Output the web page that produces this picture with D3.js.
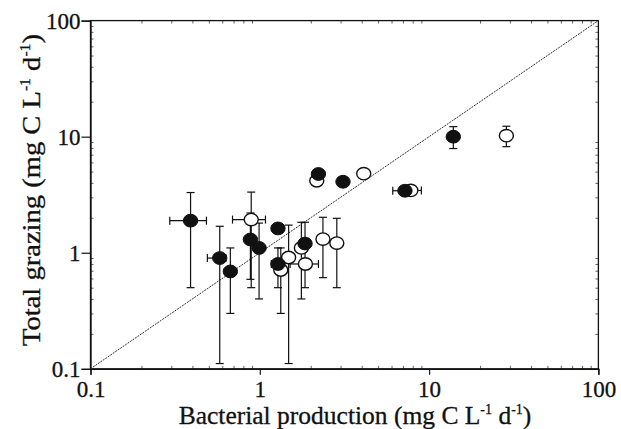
<!DOCTYPE html>
<html>
<head>
<meta charset="utf-8">
<script src="https://cdn.jsdelivr.net/npm/d3@7"></script>
<style>
  body { margin: 0; background: #fff; }
</style>
</head>
<body>
<svg id="chart"></svg>
<script>
// filled circles
const prodFilled = [0.39, 0.58, 0.67, 0.88, 0.99, 1.28, 1.28, 1.85, 2.22, 3.10, 7.2, 13.9];
const grazFilled = [1.89, 0.90, 0.69, 1.30, 1.10, 1.62, 0.80, 1.20, 4.77, 4.09, 3.42, 10.0];
const grazFilledErr = [[0.50, 3.3], [0.111, 1.69], [0.30, 1.10], [0.59, 2.2], [0.40, 1.80], null,
  [0.50, 1.10], [0.50, 1.83], null, null, null, [7.9, 12.2]];
const prodFilledErr = [[0.294, 0.484], [0.49, 0.63], null, null, null, null,
  [1.17, 1.40], null, null, null, [6.1, 8.0], null];

// open circles
const prodOpen = [0.89, 1.33, 1.48, 1.76, 1.86, 2.36, 2.85, 2.17, 4.11, 7.8, 28.6];
const grazOpen = [1.93, 0.71, 0.91, 1.10, 0.80, 1.31, 1.21, 4.17, 4.80, 3.44, 10.2];
const grazOpenErr = [[0.50, 3.33], [0.30, 1.10], [0.111, 1.73], [0.40, 1.83], null,
  [0.61, 2.02], [0.50, 1.98], null, null, null, [8.2, 12.3]];
const prodOpenErr = [[0.69, 1.08], null, null, null, [1.51, 2.22], null, null, null, null, [7.0, 9.0], null];

const tickVals = [0.1, 1, 10, 100];
const tickLabels = ['0.1', '1', '10', '100'];

const FONT = '"Liberation Serif", "Times New Roman", Times, serif';
const width = 621, height = 429;
const margin = { top: 20.6, right: 22.6, bottom: 60.2, left: 90.5 };
const w = width - margin.left - margin.right;
const h = height - margin.top - margin.bottom;

const svg = d3.select('#chart').attr('width', width).attr('height', height);
const g = svg.append('g').attr('transform', `translate(${margin.left},${margin.top})`);

const x = d3.scaleLog().domain([0.1, 100]).range([0, w]);
const y = d3.scaleLog().domain([0.1, 100]).range([h, 0]);

// minor ticks inside the frame
const minors = [];
[0.1, 1, 10].forEach(d => { for (let k = 2; k <= 9; k++) minors.push(d * k); });
const minorStyle = sel => {
  sel.select('.domain').remove();
  sel.selectAll('line').attr('stroke', '#666');
};
g.append('g').attr('transform', `translate(0,${h})`)
  .call(d3.axisTop(x).tickValues(minors).tickSize(3).tickFormat('')).call(minorStyle);
g.append('g')
  .call(d3.axisBottom(x).tickValues(minors).tickSize(3).tickFormat('')).call(minorStyle);
g.append('g')
  .call(d3.axisRight(y).tickValues(minors).tickSize(3).tickFormat('')).call(minorStyle);
g.append('g').attr('transform', `translate(${w},0)`)
  .call(d3.axisLeft(y).tickValues(minors).tickSize(3).tickFormat('')).call(minorStyle);

// frame
g.append('rect').attr('width', w).attr('height', h)
  .attr('fill', 'none').attr('stroke', '#111').attr('stroke-width', 1.3);

// major axes
const xAxis = g.append('g').attr('transform', `translate(0,${h})`)
  .call(d3.axisBottom(x).tickValues(tickVals).tickSize(6).tickPadding(4)
    .tickFormat((d, i) => tickLabels[i]));
const yAxis = g.append('g')
  .call(d3.axisLeft(y).tickValues(tickVals).tickSize(9).tickPadding(1)
    .tickFormat((d, i) => tickLabels[i]));
[xAxis, yAxis].forEach(a => {
  a.attr('font-family', null).attr('font-size', null);
  a.select('.domain').attr('stroke', '#111').attr('stroke-width', 1.3);
  a.selectAll('line').attr('stroke', '#111').attr('stroke-width', 1.2);
  a.selectAll('text').style('font-family', FONT).style('font-size', '23px')
    .attr('fill', '#111').attr('stroke', '#111').attr('stroke-width', 0.3);
});
yAxis.selectAll('text').attr('dy', '0.34em');
xAxis.selectAll('text').attr('dy', '0.78em');

// 1:1 line
g.append('line')
  .attr('x1', x(0.1)).attr('y1', y(0.1)).attr('x2', x(100)).attr('y2', y(100))
  .attr('stroke', '#333').attr('stroke-width', 1).attr('stroke-dasharray', '2,1');

// error bars
function errorBars(px, py, yErr, xErr) {
  const eb = g.append('g').attr('stroke', '#111').attr('stroke-width', 1.2).attr('fill', 'none');
  const cap = 4;
  px.forEach((xv, i) => {
    const cx = x(xv), cy = y(py[i]);
    const ye = yErr[i];
    if (ye) {
      eb.append('line').attr('x1', cx).attr('x2', cx).attr('y1', y(ye[0])).attr('y2', y(ye[1]));
      ye.forEach(v => eb.append('line').attr('x1', cx - cap).attr('x2', cx + cap).attr('y1', y(v)).attr('y2', y(v)));
    }
    const xe = xErr[i];
    if (xe) {
      eb.append('line').attr('y1', cy).attr('y2', cy).attr('x1', x(xe[0])).attr('x2', x(xe[1]));
      xe.forEach(v => eb.append('line').attr('y1', cy - cap).attr('y2', cy + cap).attr('x1', x(v)).attr('x2', x(v)));
    }
  });
}
errorBars(prodOpen, grazOpen, grazOpenErr, prodOpenErr);
errorBars(prodFilled, grazFilled, grazFilledErr, prodFilledErr);

// open circles under filled ones
g.append('g').selectAll('ellipse').data(prodOpen).join('ellipse')
  .attr('cx', d => x(d)).attr('cy', (d, i) => y(grazOpen[i]))
  .attr('rx', 7).attr('ry', 6.2)
  .attr('fill', '#fff').attr('stroke', '#111').attr('stroke-width', 1.4);
g.append('g').selectAll('ellipse').data(prodFilled).join('ellipse')
  .attr('cx', d => x(d)).attr('cy', (d, i) => y(grazFilled[i]))
  .attr('rx', 7.2).attr('ry', 6.4)
  .attr('fill', '#111').attr('stroke', '#111').attr('stroke-width', 1);

// axis titles
function title(sel, label) {
  sel.style('font-family', FONT).style('font-size', '25.5px').attr('fill', '#111')
    .attr('stroke', '#111').attr('stroke-width', 0.3)
    .attr('text-anchor', 'middle');
  sel.append('tspan').text(label + ' (mg C L');
  sel.append('tspan').style('font-size', '14px').attr('dy', -10).text('-1');
  sel.append('tspan').attr('dy', 10).text(' d');
  sel.append('tspan').style('font-size', '14px').attr('dy', -10).text('-1');
  sel.append('tspan').attr('dy', 10).text(')');
}
svg.append('text')
  .attr('x', 355).attr('y', 424)
  .call(title, 'Bacterial production');
svg.append('text')
  .attr('transform', `translate(40,190) rotate(-90) scale(1.12,1)`)
  .call(title, 'Total grazing');
</script>
</body>
</html>
